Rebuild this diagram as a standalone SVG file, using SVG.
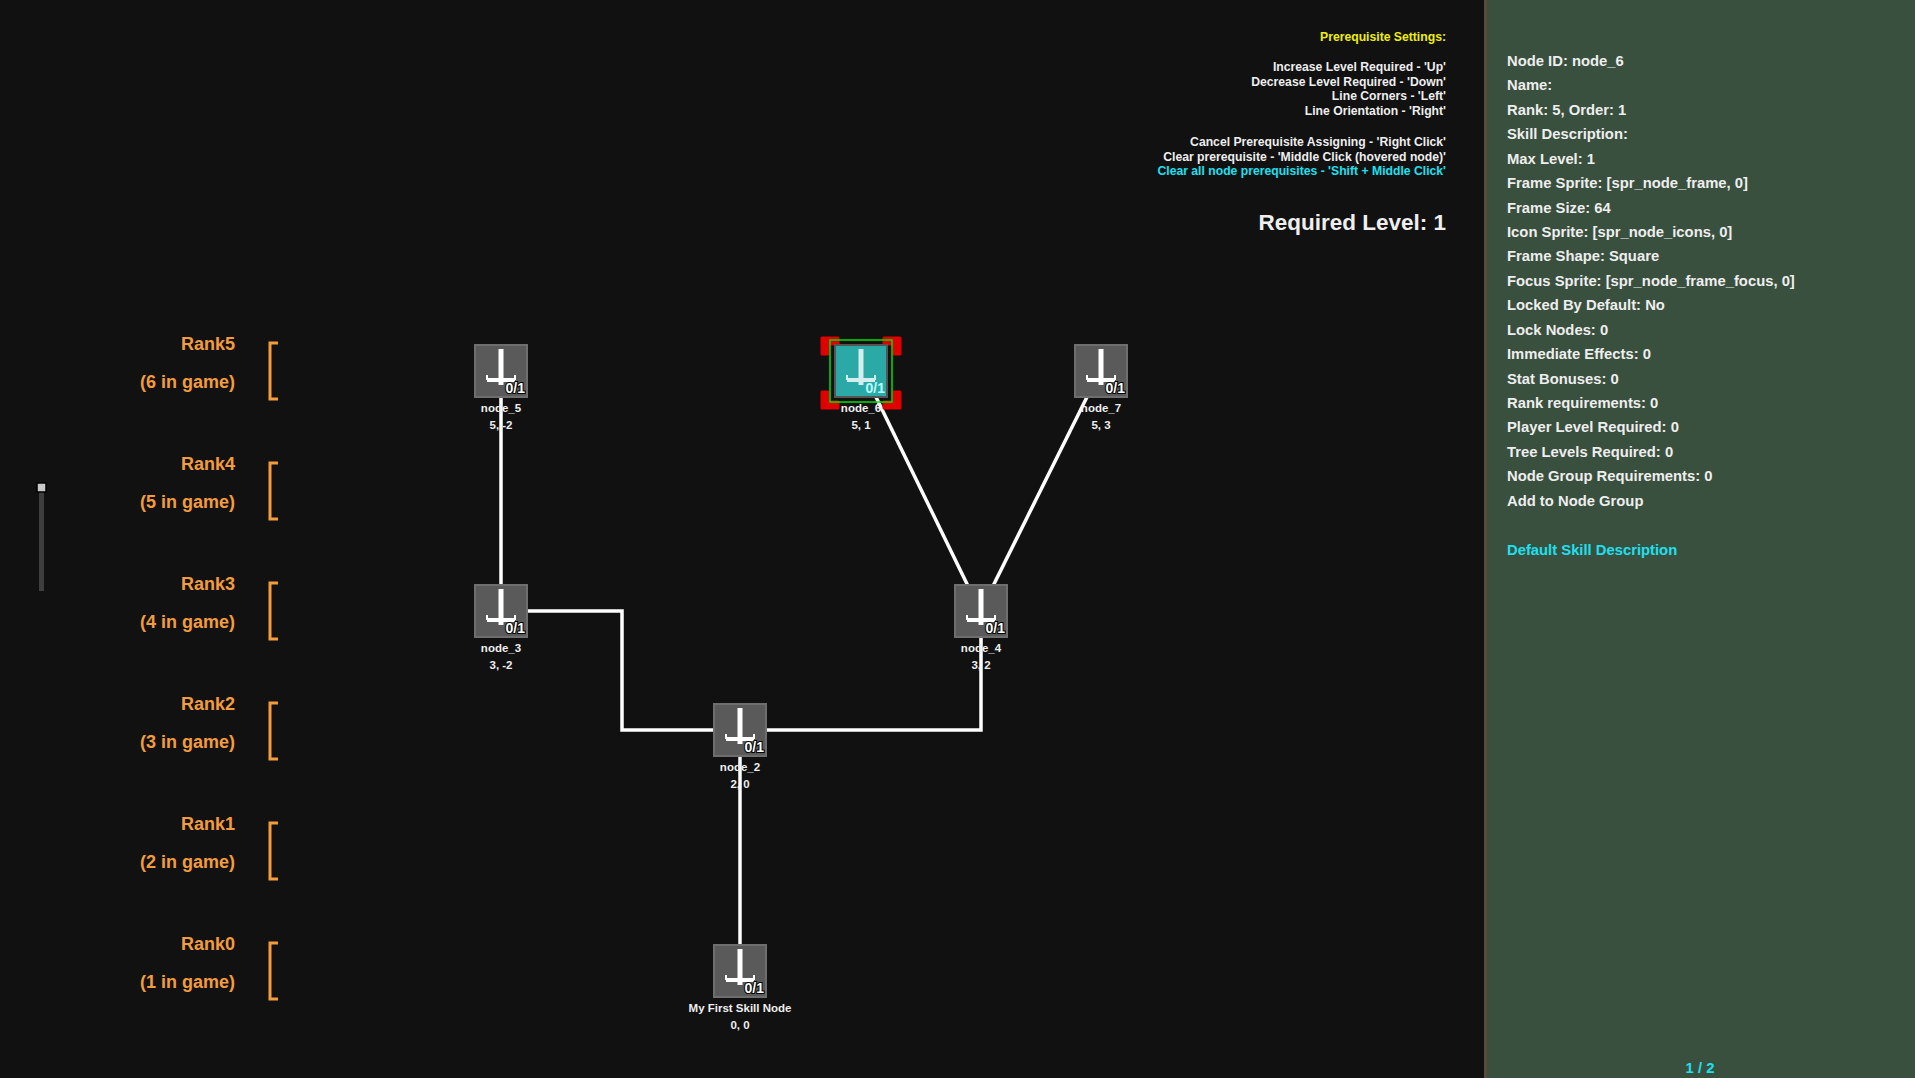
<svg xmlns="http://www.w3.org/2000/svg" xmlns:xlink="http://www.w3.org/1999/xlink" width="1915" height="1078" viewBox="0 0 1915 1078">
<style>
text{font-family:"Liberation Sans",Arial,sans-serif;font-weight:bold}
.rk{fill:#f39c3d;font-size:18px;text-anchor:end}
.br{fill:none;stroke:#f39c3d;stroke-width:3}
.help{fill:#eee;font-size:12.2px;text-anchor:end}
.info{fill:#eee;font-size:14.8px}
.nl{fill:#eee;font-size:11.5px;text-anchor:middle}
.cn{stroke:#fff;stroke-width:3.5;fill:none}
.lv{fill:#fff;font-size:14px;text-anchor:end;stroke:#000;stroke-width:2;paint-order:stroke}
</style>
<defs>
<g id="sw">
<rect x="-2.5" y="-22" width="5" height="36" fill="#fff"/>
<rect x="-14" y="7" width="28" height="4" fill="#fff"/>
<rect x="-15" y="4" width="2" height="5" fill="#fff"/>
<rect x="13" y="4" width="2" height="5" fill="#fff"/>
</g>
<g id="nd">
<rect x="-26" y="-26" width="52" height="52" fill="#5a5a5a" stroke="#6e6e6e" stroke-width="2"/>
<use xlink:href="#sw"/>
<text class="lv" x="24" y="22">0/1</text>
</g>
</defs>
<rect width="1915" height="1078" fill="#111"/>
<rect x="1486" y="0" width="429" height="1078" fill="#3a503f"/>
<rect x="1484" y="0" width="3" height="1078" fill="#5a4a3a"/>
<rect x="39" y="489" width="5" height="102" fill="#3e3e3e"/>
<rect x="37" y="483" width="9" height="9" fill="#c8c8c8" stroke="#000" stroke-width="1.5"/>
<g id="ranks">
<text class="rk" x="235" y="350">Rank5</text><text class="rk" x="235" y="388">(6 in game)</text>
<path class="br" d="M278,343H270V399H278"/>
<text class="rk" x="235" y="470">Rank4</text><text class="rk" x="235" y="508">(5 in game)</text>
<path class="br" d="M278,463H270V519H278"/>
<text class="rk" x="235" y="590">Rank3</text><text class="rk" x="235" y="628">(4 in game)</text>
<path class="br" d="M278,583H270V639H278"/>
<text class="rk" x="235" y="710">Rank2</text><text class="rk" x="235" y="748">(3 in game)</text>
<path class="br" d="M278,703H270V759H278"/>
<text class="rk" x="235" y="830">Rank1</text><text class="rk" x="235" y="868">(2 in game)</text>
<path class="br" d="M278,823H270V879H278"/>
<text class="rk" x="235" y="950">Rank0</text><text class="rk" x="235" y="988">(1 in game)</text>
<path class="br" d="M278,943H270V999H278"/>
</g>
<g id="help">
<text x="1446" y="41" class="help" style="fill:#f0f000">Prerequisite Settings:</text>
<text x="1446" y="71" class="help">Increase Level Required - 'Up'</text>
<text x="1446" y="86" class="help">Decrease Level Required - 'Down'</text>
<text x="1446" y="100" class="help">Line Corners - 'Left'</text>
<text x="1446" y="115" class="help">Line Orientation - 'Right'</text>
<text x="1446" y="146" class="help">Cancel Prerequisite Assigning - 'Right Click'</text>
<text x="1446" y="161" class="help">Clear prerequisite - 'Middle Click (hovered node)'</text>
<text x="1446" y="175" class="help" style="fill:#1ee0f0">Clear all node prerequisites - 'Shift + Middle Click'</text>
<text x="1446" y="230" style="fill:#eee;font-size:22.5px;text-anchor:end">Required Level: 1</text>
</g>
<g id="connectors">
<path class="cn" d="M501,371V611"/>
<path class="cn" d="M501,611H622V730H740"/>
<path class="cn" d="M740,730H981V611"/>
<path class="cn" d="M740,730V971"/>
<path class="cn" d="M874,393L968,586"/>
<path class="cn" d="M1087,397L993,586"/>
</g>
<g id="node_5"><use xlink:href="#nd" x="501" y="371"/><text class="nl" x="501" y="412">node_5</text><text class="nl" x="501" y="429">5, -2</text></g>
<g id="node_6">
<path d="M822,338h16v6h-10v10h-6zM900,338h-16v6h10v10h6zM822,408h16v-6h-10v-10h-6zM900,408h-16v-6h10v-10h6z" fill="#e00000" stroke="#e00000" stroke-width="3" stroke-linejoin="round"/>
<rect x="830" y="340" width="62" height="62" fill="none" stroke="#00e000" stroke-width="1.5"/>
<rect x="835" y="345" width="52" height="52" fill="#2aa9a6" stroke="#555" stroke-width="2"/>
<g transform="translate(861,371)"><g opacity="0.8"><use xlink:href="#sw"/></g><text class="lv" x="24" y="22" style="fill:#bff;stroke:none">0/1</text></g>
<text class="nl" x="861" y="412">node_6</text><text class="nl" x="861" y="429">5, 1</text></g>
<g id="node_7"><use xlink:href="#nd" x="1101" y="371"/><text class="nl" x="1101" y="412">node_7</text><text class="nl" x="1101" y="429">5, 3</text></g>
<g id="node_3"><use xlink:href="#nd" x="501" y="611"/><text class="nl" x="501" y="652">node_3</text><text class="nl" x="501" y="669">3, -2</text></g>
<g id="node_4"><use xlink:href="#nd" x="981" y="611"/><text class="nl" x="981" y="652">node_4</text><text class="nl" x="981" y="669">3, 2</text></g>
<g id="node_2"><use xlink:href="#nd" x="740" y="730"/><text class="nl" x="740" y="771">node_2</text><text class="nl" x="740" y="788">2, 0</text></g>
<g id="node_1"><use xlink:href="#nd" x="740" y="971"/><text class="nl" x="740" y="1012">My First Skill Node</text><text class="nl" x="740" y="1029">0, 0</text></g>
<g id="info">
<text class="info" x="1507" y="66">Node ID: node_6</text>
<text class="info" x="1507" y="90">Name:</text>
<text class="info" x="1507" y="115">Rank: 5, Order: 1</text>
<text class="info" x="1507" y="139">Skill Description:</text>
<text class="info" x="1507" y="164">Max Level: 1</text>
<text class="info" x="1507" y="188">Frame Sprite: [spr_node_frame, 0]</text>
<text class="info" x="1507" y="213">Frame Size: 64</text>
<text class="info" x="1507" y="237">Icon Sprite: [spr_node_icons, 0]</text>
<text class="info" x="1507" y="261">Frame Shape: Square</text>
<text class="info" x="1507" y="286">Focus Sprite: [spr_node_frame_focus, 0]</text>
<text class="info" x="1507" y="310">Locked By Default: No</text>
<text class="info" x="1507" y="335">Lock Nodes: 0</text>
<text class="info" x="1507" y="359">Immediate Effects: 0</text>
<text class="info" x="1507" y="384">Stat Bonuses: 0</text>
<text class="info" x="1507" y="408">Rank requirements: 0</text>
<text class="info" x="1507" y="432">Player Level Required: 0</text>
<text class="info" x="1507" y="457">Tree Levels Required: 0</text>
<text class="info" x="1507" y="481">Node Group Requirements: 0</text>
<text class="info" x="1507" y="506">Add to Node Group</text>
<text class="info" x="1507" y="555" style="fill:#1ee0f0">Default Skill Description</text>
<text class="info" x="1700" y="1073" style="fill:#1ee0f0;text-anchor:middle">1 / 2</text>
</g>
</svg>
